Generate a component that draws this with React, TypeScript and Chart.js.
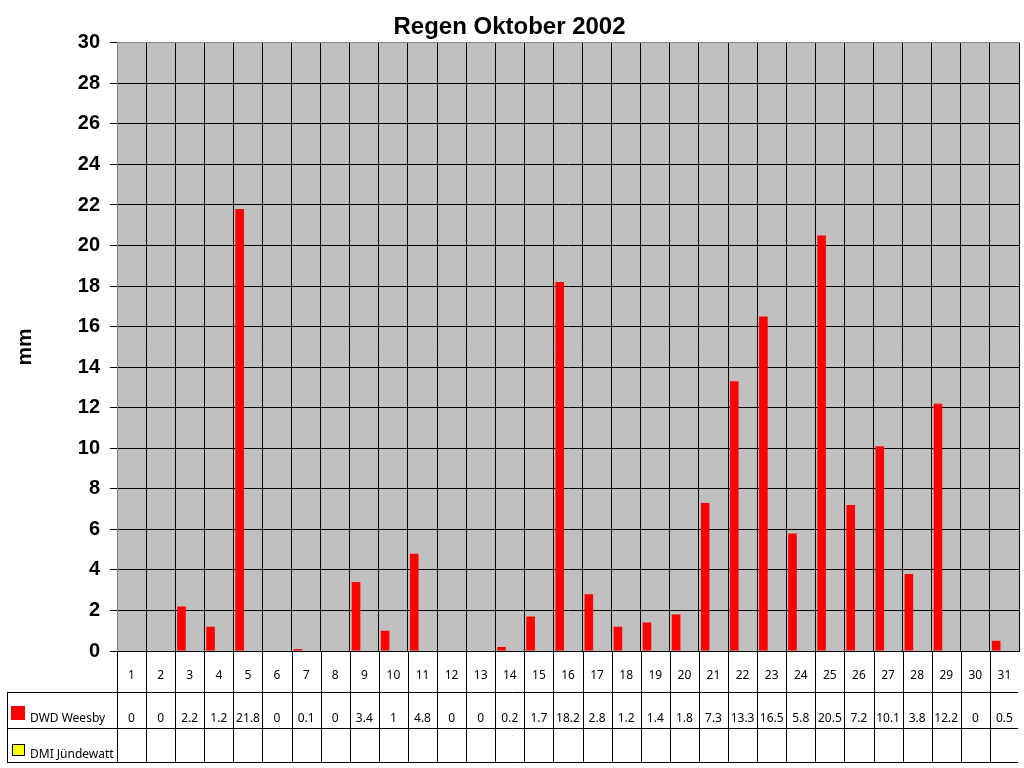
import { useEffect, useRef } from 'react';
import { Chart, registerables } from 'chart.js';

Chart.register(...registerables);

const days = ['1', '2', '3', '4', '5', '6', '7', '8', '9', '10', '11', '12', '13', '14', '15', '16',
  '17', '18', '19', '20', '21', '22', '23', '24', '25', '26', '27', '28', '29', '30', '31'];
const dwdWeesby = [0, 0, 2.2, 1.2, 21.8, 0, 0.1, 0, 3.4, 1, 4.8, 0, 0, 0.2, 1.7, 18.2,
  2.8, 1.2, 1.4, 1.8, 7.3, 13.3, 16.5, 5.8, 20.5, 7.2, 10.1, 3.8, 12.2, 0, 0.5];
const dmiJuendewatt: (number | null)[] = days.map(() => null);
const seriesNames = ['DWD Weesby', 'DMI Jündewatt'];

const TABLE_FONT = '12px "Noto Sans", sans-serif';
const BOLD_FONT = '"Liberation Sans", Arial, sans-serif';

// plot background + data table under the plot
const excelPlugin = {
  id: 'excelTable',
  beforeDraw(chart: Chart) {
    const { ctx, chartArea } = chart;
    ctx.save();
    ctx.fillStyle = '#C0C0C0';
    ctx.fillRect(chartArea.left, chartArea.top, chartArea.right - chartArea.left, chartArea.bottom - chartArea.top);
    ctx.restore();
  },
  afterDraw(chart: Chart) {
    const { ctx, chartArea } = chart;
    const x = chart.scales.x;
    const cell = (chartArea.right - chartArea.left) / days.length;
    const top = Math.round(chartArea.bottom);
    const row1 = 692;
    const row2 = 728;
    const bottom = 762;
    const tableLeft = 7;
    const right = Math.round(chartArea.right);

    ctx.save();
    ctx.strokeStyle = '#000';
    ctx.lineWidth = 1;
    ctx.beginPath();
    for (let j = 0; j < days.length; j++) {
      const bx = Math.round(chartArea.left + j * cell) + 0.5;
      ctx.moveTo(bx, top);
      ctx.lineTo(bx, bottom);
    }
    ctx.moveTo(tableLeft + 0.5, row1);
    ctx.lineTo(tableLeft + 0.5, bottom);
    [row1, row2, bottom].forEach((y) => {
      ctx.moveTo(tableLeft, y + 0.5);
      ctx.lineTo(right - 1, y + 0.5);
    });
    ctx.stroke();

    ctx.fillStyle = '#000';
    ctx.font = TABLE_FONT;
    ctx.textAlign = 'center';
    ctx.textBaseline = 'middle';
    days.forEach((d, i) => {
      const cx = x.getPixelForValue(i);
      ctx.fillText(d, cx, 676);
      ctx.fillText(String(dwdWeesby[i]), cx, 719);
      const v = dmiJuendewatt[i];
      if (v !== null) ctx.fillText(String(v), cx, 755);
    });

    // legend keys
    ctx.fillStyle = '#FF0000';
    ctx.fillRect(11, 706, 14, 14);
    ctx.fillStyle = '#FFFF00';
    ctx.fillRect(12, 744, 13, 12);
    ctx.strokeRect(12.5, 744.5, 12, 11);

    ctx.fillStyle = '#000';
    ctx.textAlign = 'left';
    ctx.fillText(seriesNames[0], 30, 719);
    ctx.fillText(seriesNames[1], 30, 755);
    ctx.restore();
  },
};

export default function App() {
  const canvasRef = useRef<HTMLCanvasElement>(null);
  const chartRef = useRef<Chart | null>(null);

  useEffect(() => {
    if (!canvasRef.current) return;
    if (chartRef.current) chartRef.current.destroy();
    const ctx = canvasRef.current.getContext('2d');
    if (!ctx) return;

    chartRef.current = new Chart(ctx, {
      type: 'bar',
      data: {
        labels: days,
        datasets: [
          { label: seriesNames[0], data: dwdWeesby, backgroundColor: '#FF0000', borderWidth: 0 },
          { label: seriesNames[1], data: dmiJuendewatt, backgroundColor: '#FFFF00', borderColor: '#000', borderWidth: 1 },
        ],
      },
      options: {
        responsive: false,
        animation: false,
        categoryPercentage: 1.14,
        barPercentage: 0.52,
        layout: { padding: { left: 0, right: 5, top: 0, bottom: 117 } },
        plugins: {
          legend: { display: false },
          tooltip: { enabled: false },
          title: {
            display: true,
            text: 'Regen Oktober 2002',
            color: '#000',
            font: { family: BOLD_FONT, size: 24, weight: 'bold' },
            padding: { top: 13, bottom: 1 },
          },
        },
        scales: {
          x: {
            ticks: { display: false },
            grid: {
              offset: true,
              drawTicks: false,
              color: (c: any) => (c.index === 0 || c.index === days.length ? '#808080' : '#000'),
            },
            border: { color: '#000' },
            afterFit: (s: any) => { s.height = 0; },
          },
          y: {
            min: 0,
            max: 30,
            ticks: {
              stepSize: 2,
              color: '#000',
              padding: 10,
              font: { family: BOLD_FONT, size: 20, weight: 'bold' },
            },
            grid: {
              color: (c: any) => (c.tick && c.tick.value === 30 ? '#808080' : '#000'),
              tickColor: '#000',
              tickLength: 7,
            },
            border: { color: '#808080' },
            title: {
              display: true,
              text: 'mm',
              color: '#000',
              font: { family: BOLD_FONT, size: 21, weight: 'bold' },
              padding: { top: 13, bottom: 0 },
            },
            afterFit: (s: any) => { s.width = 117; },
          },
        },
      },
      plugins: [excelPlugin],
    });

    return () => {
      if (chartRef.current) {
        chartRef.current.destroy();
        chartRef.current = null;
      }
    };
  }, []);

  return (
    <div style={{ position: 'fixed', left: 0, top: 0, width: 1024, height: 768, background: '#fff' }}>
      <canvas ref={canvasRef} width={1024} height={768} />
    </div>
  );
}
